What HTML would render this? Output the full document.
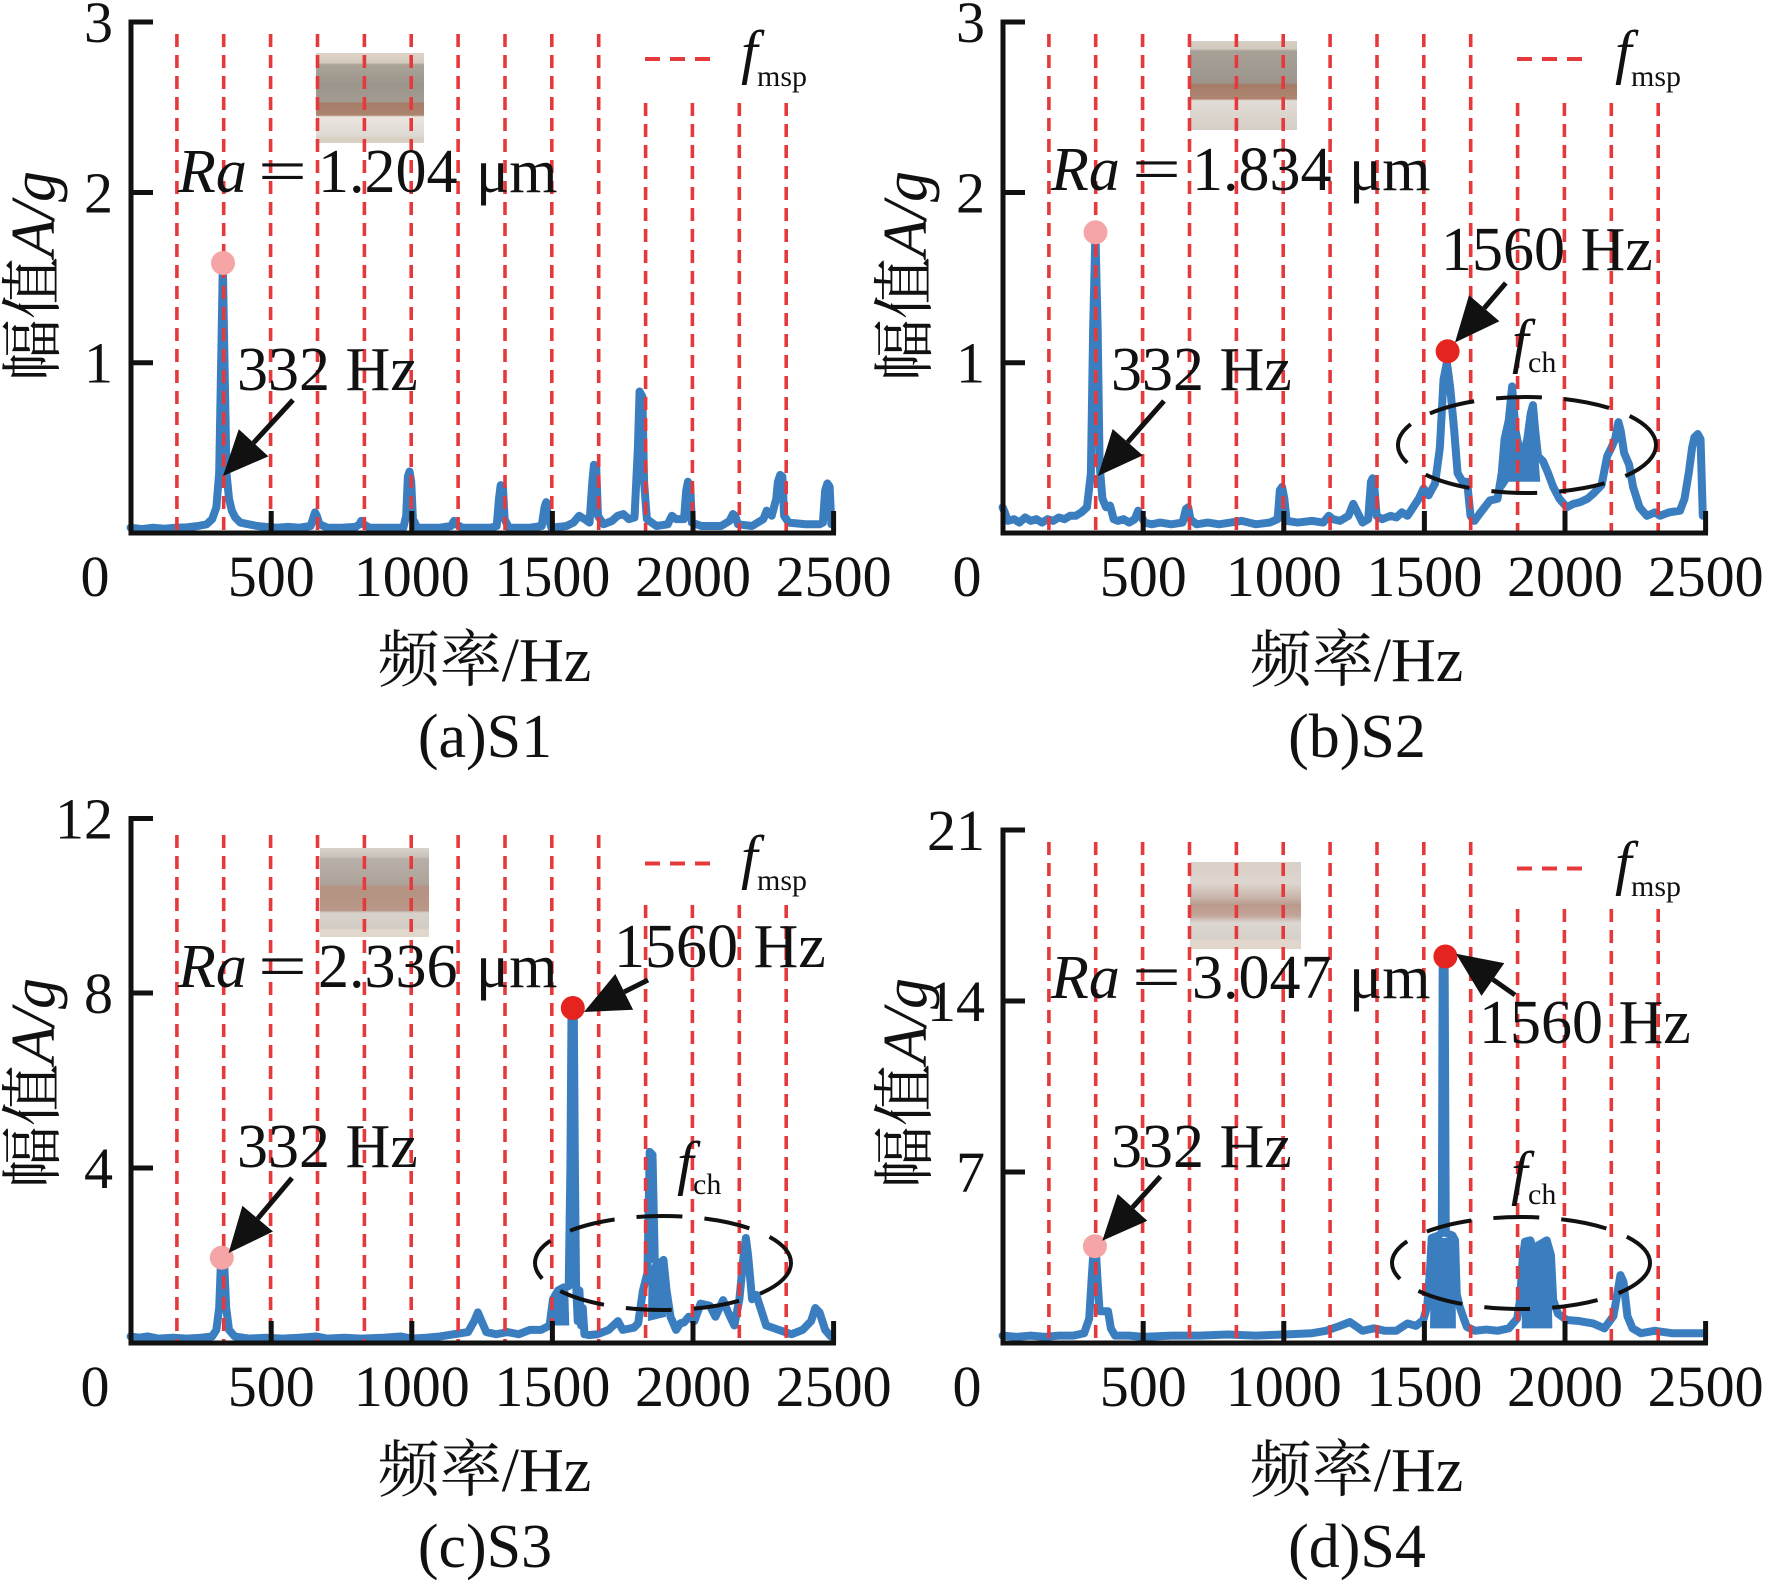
<!DOCTYPE html>
<html><head><meta charset="utf-8"><style>
html,body{margin:0;padding:0;background:#fff}
svg{display:block}
text{font-family:"Liberation Serif","Noto Serif CJK SC",serif;fill:#111}
</style></head><body>
<svg xmlns="http://www.w3.org/2000/svg" width="1770" height="1580" viewBox="0 0 1770 1580">
<defs>
<linearGradient id="pa" x1="0" y1="0" x2="0" y2="1">
<stop offset="0" stop-color="#ddd4c9"/><stop offset="0.11" stop-color="#d4cabd"/><stop offset="0.13" stop-color="#aaa398"/><stop offset="0.35" stop-color="#9b958c"/><stop offset="0.54" stop-color="#a29b92"/><stop offset="0.56" stop-color="#a57c68"/><stop offset="0.69" stop-color="#ab8470"/><stop offset="0.71" stop-color="#ebe6e0"/><stop offset="0.92" stop-color="#dedad3"/><stop offset="0.94" stop-color="#d9d0c4"/><stop offset="1" stop-color="#d9d0c4"/>
</linearGradient>
<linearGradient id="pb" x1="0" y1="0" x2="0" y2="1">
<stop offset="0" stop-color="#d8d0c6"/><stop offset="0.09" stop-color="#d2c9bd"/><stop offset="0.11" stop-color="#a8a198"/><stop offset="0.47" stop-color="#9c958b"/><stop offset="0.49" stop-color="#a67c67"/><stop offset="0.65" stop-color="#ad8571"/><stop offset="0.67" stop-color="#e2ddd6"/><stop offset="1" stop-color="#d4cec6"/>
</linearGradient>
<linearGradient id="pc" x1="0" y1="0" x2="0" y2="1">
<stop offset="0" stop-color="#d9d3cb"/><stop offset="0.1" stop-color="#c9c2ba"/><stop offset="0.12" stop-color="#b8b0a8"/><stop offset="0.4" stop-color="#ada49b"/><stop offset="0.44" stop-color="#b59282"/><stop offset="0.7" stop-color="#b89888"/><stop offset="0.73" stop-color="#d8d2cc"/><stop offset="0.9" stop-color="#d2ccc4"/><stop offset="0.92" stop-color="#e0d8cc"/><stop offset="1" stop-color="#e0d8cc"/>
</linearGradient>
<linearGradient id="pd" x1="0" y1="0" x2="0" y2="1">
<stop offset="0" stop-color="#d9d0c8"/><stop offset="0.25" stop-color="#ddd5ce"/><stop offset="0.4" stop-color="#c9b6ac"/><stop offset="0.5" stop-color="#b99a8c"/><stop offset="0.62" stop-color="#c2a699"/><stop offset="0.7" stop-color="#ddd7d1"/><stop offset="0.88" stop-color="#d6d0ca"/><stop offset="0.9" stop-color="#e0d6cc"/><stop offset="1" stop-color="#e0d6cc"/>
</linearGradient>
</defs>
<rect width="1770" height="1580" fill="#fff"/>

<!-- photos -->
<rect x="316" y="53" width="108" height="90" fill="url(#pa)"/>
<rect x="1190" y="41" width="107" height="89" fill="url(#pb)"/>
<rect x="320" y="848" width="109" height="89" fill="url(#pc)"/>
<rect x="1190" y="862" width="111" height="87" fill="url(#pd)"/>

<!-- blue fills (solid blocks) -->
<g fill="#3b7ec0" stroke="none">
<g transform="translate(1002.6,532.8) scale(0.2812,-170.25)">
<polygon points="1780,0.25 1786,0.55 1800,0.62 1812,0.82 1826,0.6 1836,0.45 1850,0.45 1866,0.5 1880,0.72 1890,0.7 1905,0.45 1912,0.3 1840,0.3 1830,0.3 1800,0.3"/>
</g>
<g transform="translate(130.6,1343) scale(0.2812,-43.75)">
<polygon points="1502,0.4 1506,1.1 1530,1.2 1556,1.3 1560,0.4"/>
<polygon points="1840,0.5 1842,1.6 1862,1.9 1880,1.8 1900,1.85 1904,0.6"/>
</g>
<g transform="translate(1002.6,1343) scale(0.2812,-24.43)">
<polygon points="1520,0.6 1524,4.2 1550,4.3 1600,4.3 1610,4.1 1612,0.6"/>
<polygon points="1846,0.6 1852,3.6 1860,4.05 1877,4.1 1890,3.6 1905,3.9 1935,4.1 1950,3.5 1955,0.6"/>
</g>
</g>

<!-- blue series -->
<g fill="none" stroke="#3b7ec0" stroke-width="8" stroke-linejoin="round" stroke-linecap="round">
<g transform="translate(130.6,532.8) scale(0.2812,-170.25)">
<polyline vector-effect="non-scaling-stroke" points="0,0.03 40,0.022 80,0.03 120,0.024 160,0.03 200,0.032 240,0.04 270,0.05 290,0.08 305,0.15 315,0.35 322,1.0 328,1.58 334,1.0 341,0.35 350,0.2 360,0.13 372,0.09 390,0.06 420,0.05 450,0.04 480,0.035 520,0.03 560,0.035 600,0.03 640,0.04 650,0.09 656,0.12 662,0.1 672,0.05 700,0.03 750,0.03 800,0.035 814,0.05 820,0.07 828,0.05 850,0.03 920,0.03 970,0.03 980,0.1 986,0.33 992,0.36 998,0.3 1004,0.08 1020,0.03 1100,0.03 1140,0.04 1150,0.07 1158,0.05 1180,0.03 1280,0.03 1302,0.04 1310,0.2 1316,0.28 1324,0.27 1330,0.08 1345,0.03 1420,0.03 1462,0.04 1472,0.15 1478,0.18 1484,0.1 1496,0.03 1550,0.04 1575,0.06 1595,0.1 1615,0.08 1632,0.06 1642,0.3 1648,0.4 1656,0.38 1662,0.1 1682,0.05 1712,0.07 1732,0.1 1752,0.11 1772,0.08 1792,0.09 1804,0.5 1810,0.83 1820,0.8 1826,0.3 1836,0.08 1870,0.04 1910,0.05 1925,0.1 1940,0.08 1968,0.08 1976,0.25 1982,0.3 1990,0.28 1996,0.06 2030,0.04 2100,0.04 2130,0.07 2142,0.11 2150,0.1 2160,0.05 2210,0.04 2250,0.08 2262,0.13 2280,0.1 2296,0.2 2302,0.3 2310,0.34 2318,0.33 2324,0.1 2340,0.06 2400,0.05 2450,0.05 2462,0.06 2470,0.25 2478,0.29 2486,0.27 2492,0.05"/>
</g>
<g transform="translate(1002.6,532.8) scale(0.2812,-170.25)">
<polyline vector-effect="non-scaling-stroke" points="0,0.15 8,0.12 18,0.07 40,0.08 60,0.06 80,0.09 100,0.07 120,0.08 140,0.06 160,0.08 180,0.07 200,0.09 220,0.08 240,0.1 260,0.1 280,0.12 300,0.15 314,0.35 322,1.2 330,1.76 338,1.2 345,0.4 355,0.2 368,0.15 382,0.16 395,0.08 410,0.07 430,0.08 450,0.06 470,0.08 482,0.13 492,0.1 505,0.06 530,0.05 560,0.06 600,0.05 640,0.06 652,0.14 660,0.15 668,0.08 690,0.05 730,0.06 770,0.05 810,0.06 850,0.07 900,0.05 950,0.06 978,0.08 986,0.25 994,0.27 1002,0.2 1010,0.07 1050,0.06 1100,0.07 1140,0.06 1160,0.1 1175,0.08 1200,0.07 1230,0.1 1247,0.17 1262,0.12 1280,0.06 1300,0.08 1310,0.3 1316,0.32 1323,0.25 1330,0.1 1350,0.08 1380,0.1 1400,0.09 1420,0.12 1440,0.1 1460,0.15 1480,0.2 1497,0.26 1515,0.22 1538,0.29 1555,0.5 1568,0.9 1580,1.0 1592,0.85 1606,0.6 1618,0.35 1636,0.3 1652,0.3 1664,0.1 1678,0.07 1700,0.12 1733,0.19 1760,0.2 1775,0.35 1785,0.55 1800,0.66 1812,0.86 1824,0.6 1836,0.5 1850,0.45 1866,0.55 1878,0.7 1886,0.75 1894,0.6 1904,0.45 1922,0.42 1940,0.35 1958,0.27 1980,0.2 2006,0.15 2030,0.17 2054,0.18 2080,0.2 2101,0.23 2130,0.28 2150,0.45 2165,0.5 2178,0.55 2190,0.65 2198,0.6 2210,0.47 2228,0.4 2242,0.27 2265,0.15 2291,0.1 2320,0.12 2338,0.1 2370,0.12 2409,0.13 2425,0.2 2440,0.35 2452,0.5 2460,0.56 2472,0.58 2482,0.55 2490,0.1"/>
</g>
<g transform="translate(130.6,1343) scale(0.2812,-43.75)">
<polyline vector-effect="non-scaling-stroke" points="0,0.15 30,0.12 60,0.15 100,0.1 150,0.12 200,0.1 250,0.12 290,0.15 305,0.3 315,0.8 321,1.8 327,1.95 333,1.8 340,0.8 350,0.3 370,0.15 420,0.1 480,0.12 540,0.1 600,0.12 660,0.15 700,0.1 760,0.12 820,0.1 900,0.12 960,0.15 1000,0.1 1050,0.12 1100,0.15 1150,0.2 1200,0.25 1222,0.5 1235,0.7 1248,0.5 1265,0.25 1300,0.2 1340,0.25 1380,0.2 1420,0.3 1460,0.3 1490,0.4 1502,1.0 1520,1.2 1540,1.27 1558,1.3 1564,4 1568,7.6 1576,7.6 1580,4 1584,1.4 1590,0.5 1596,1.2 1602,0.4 1608,0.8 1614,0.2 1630,0.18 1660,0.2 1700,0.3 1733,0.5 1750,0.3 1790,0.35 1805,0.45 1822,1.2 1838,1.6 1846,4.37 1856,4.3 1864,1.9 1880,1.8 1895,1.9 1906,1.2 1920,0.6 1940,0.3 1955,0.45 1968,0.47 1985,0.6 2005,0.5 2027,0.9 2060,0.85 2080,0.6 2107,0.98 2125,0.7 2147,0.4 2165,1.0 2180,2.0 2188,2.4 2196,2.0 2210,1.0 2225,1.1 2240,0.8 2260,0.4 2305,0.3 2350,0.2 2390,0.3 2420,0.5 2435,0.8 2450,0.7 2470,0.3 2490,0.15"/>
</g>
<g transform="translate(1002.6,1343) scale(0.2812,-24.43)">
<polyline vector-effect="non-scaling-stroke" points="0,0.3 50,0.25 100,0.3 150,0.25 200,0.3 250,0.3 290,0.4 308,1.0 316,2.5 324,3.9 331,3.9 338,2.5 345,1.3 360,1.3 375,1.3 385,0.6 400,0.3 450,0.3 500,0.25 600,0.3 700,0.3 800,0.35 900,0.3 1000,0.35 1100,0.4 1150,0.5 1200,0.7 1235,0.86 1255,0.7 1280,0.5 1320,0.6 1360,0.5 1400,0.5 1440,0.8 1470,0.7 1496,0.94 1510,1.5 1520,3.0 1526,4.3 1550,4.4 1562,4.5 1565,15.5 1572,15.5 1576,4.5 1600,4.4 1609,4.2 1615,2.0 1625,1.5 1640,1.0 1651,0.66 1680,0.5 1720,0.55 1760,0.5 1800,0.6 1830,1.0 1840,1.76 1850,3.5 1858,4.15 1877,4.2 1890,3.7 1905,4.0 1935,4.2 1950,3.6 1958,1.76 1975,1.2 2006,0.94 2050,0.9 2100,0.8 2140,0.6 2172,1.1 2186,2.0 2197,2.78 2208,2.5 2222,1.1 2240,0.6 2270,0.4 2320,0.5 2380,0.4 2440,0.4 2490,0.4"/>
</g>
</g>

<!-- red dashed f_msp lines -->
<g fill="none" stroke="#e6393b" stroke-width="3.6" stroke-dasharray="13 8">
<path d="M176.9 34V531M223.7 34V531M270.6 34V531M317.5 34V531M364.4 34V531M411.2 34V531M458.1 34V531M505 34V531M551.8 34V531M598.7 34V531M645.6 103V531M692.4 103V531M739.3 103V531M786.2 103V531"/>
<path d="M1048.9 34V531M1095.7 34V531M1142.6 34V531M1189.5 34V531M1236.4 34V531M1283.2 34V531M1330.1 34V531M1377 34V531M1423.8 34V531M1470.7 34V531M1517.6 103V531M1564.4 103V531M1611.3 103V531M1658.2 103V531"/>
<path d="M176.9 835V1341M223.7 835V1341M270.6 835V1341M317.5 835V1341M364.4 835V1341M411.2 835V1341M458.1 835V1341M505 835V1341M551.8 835V1341M598.7 835V1341M645.6 905V1341M692.4 905V1341M739.3 905V1341M786.2 905V1341"/>
<path d="M1048.9 842V1341M1095.7 842V1341M1142.6 842V1341M1189.5 842V1341M1236.4 842V1341M1283.2 842V1341M1330.1 842V1341M1377 842V1341M1423.8 842V1341M1470.7 842V1341M1517.6 909V1341M1564.4 909V1341M1611.3 909V1341M1658.2 909V1341"/>
</g>
<!-- legend dashes -->
<g fill="none" stroke="#e6393b" stroke-width="4" stroke-dasharray="15 10">
<path d="M645 59H711"/><path d="M1517 59H1583"/><path d="M645 863.5H711"/><path d="M1517 868.5H1583"/>
</g>

<!-- axes -->
<g fill="none" stroke="#111" stroke-width="5">
<path d="M131 19.5V535.5M128.5 533H836M131 22H153M131 192.5H153M131 362.7H153M271.2 533V511M411.8 533V511M552.4 533V511M693 533V511M833.6 533V511"/>
<path d="M1003 19.5V535.5M1000.5 533H1708M1003 22H1025M1003 192.5H1025M1003 362.7H1025M1143.2 533V511M1283.8 533V511M1424.4 533V511M1565 533V511M1705.6 533V511"/>
<path d="M131 816V1345.5M128.5 1343H836M131 818.5H153M131 993H153M131 1168H153M271.2 1343V1321M411.8 1343V1321M552.4 1343V1321M693 1343V1321M833.6 1343V1321"/>
<path d="M1003 827.5V1345.5M1000.5 1343H1708M1003 830H1025M1003 1001H1025M1003 1172H1025M1143.2 1343V1321M1283.8 1343V1321M1424.4 1343V1321M1565 1343V1321M1705.6 1343V1321"/>
</g>

<!-- ellipses -->
<g fill="none" stroke="#111" stroke-width="4" stroke-dasharray="46 22">
<ellipse cx="1527" cy="445" rx="129" ry="48"/>
<ellipse cx="663" cy="1263" rx="128" ry="47"/>
<ellipse cx="1521" cy="1263" rx="129" ry="46"/>
</g>

<!-- markers -->
<circle cx="223" cy="263" r="12" fill="#f5a5a5"/>
<circle cx="1095.5" cy="232.3" r="12" fill="#f5a5a5"/>
<circle cx="1447.6" cy="351.3" r="12" fill="#e52420"/>
<circle cx="221.8" cy="1257.7" r="12" fill="#f5a5a5"/>
<circle cx="572.8" cy="1008" r="12" fill="#e52420"/>
<circle cx="1094.9" cy="1246.2" r="12" fill="#f5a5a5"/>
<circle cx="1445.4" cy="956.5" r="12" fill="#e52420"/>

<!-- arrows -->
<g stroke="#111" stroke-width="5" fill="none">
<path d="M293 400L253.6 442.8"/>
<path d="M1164 401L1127.7 442.2"/>
<path d="M1505.8 283L1484.2 308.3"/>
<path d="M292 1178L257.7 1218.6"/>
<path d="M648 980L624.2 991.9"/>
<path d="M1160.4 1176.5L1132.5 1207.4"/>
<path d="M1515 995L1492.9 979.5"/>
</g>
<g fill="#111">
<polygon points="223,476 268.4,456.4 238.8,429.2"/>
<polygon points="1098,476 1142.7,455.4 1112.7,429"/>
<polygon points="1455,342.5 1499.4,321.3 1469,295.3"/>
<polygon points="228.6,1253 273,1231.5 242.4,1205.7"/>
<polygon points="584,1012 633.1,1009.8 615.3,974"/>
<polygon points="1102.3,1240.8 1147.3,1220.8 1117.7,1194"/>
<polygon points="1456,953.8 1504.3,963.1 1481.5,995.9"/>
</g>

<!-- y-axis labels -->
<g font-size="62" text-anchor="middle">
<text transform="translate(54,276) rotate(-90)">幅值<tspan font-style="italic">A/g</tspan></text>
<text transform="translate(926,276) rotate(-90)">幅值<tspan font-style="italic">A/g</tspan></text>
<text transform="translate(54,1083) rotate(-90)">幅值<tspan font-style="italic">A/g</tspan></text>
<text transform="translate(926,1083) rotate(-90)">幅值<tspan font-style="italic">A/g</tspan></text>
</g>

<!-- y tick labels -->
<g font-size="58" text-anchor="end">
<text x="113" y="42">3</text><text x="113" y="212.5">2</text><text x="113" y="382.7">1</text>
<text x="985" y="42">3</text><text x="985" y="212.5">2</text><text x="985" y="382.7">1</text>
<text x="113" y="838.5">12</text><text x="113" y="1013">8</text><text x="113" y="1188">4</text>
<text x="985" y="850">21</text><text x="985" y="1021">14</text><text x="985" y="1192">7</text>
</g>

<!-- x tick labels -->
<g font-size="58" text-anchor="middle">
<text x="95" y="596">0</text><text x="271.2" y="596">500</text><text x="411.8" y="596">1000</text><text x="552.4" y="596">1500</text><text x="693" y="596">2000</text><text x="833.6" y="596">2500</text>
<text x="967" y="596">0</text><text x="1143.2" y="596">500</text><text x="1283.8" y="596">1000</text><text x="1424.4" y="596">1500</text><text x="1565" y="596">2000</text><text x="1705.6" y="596">2500</text>
<text x="95" y="1406">0</text><text x="271.2" y="1406">500</text><text x="411.8" y="1406">1000</text><text x="552.4" y="1406">1500</text><text x="693" y="1406">2000</text><text x="833.6" y="1406">2500</text>
<text x="967" y="1406">0</text><text x="1143.2" y="1406">500</text><text x="1283.8" y="1406">1000</text><text x="1424.4" y="1406">1500</text><text x="1565" y="1406">2000</text><text x="1705.6" y="1406">2500</text>
</g>

<!-- x labels & captions -->
<g font-size="62" text-anchor="middle">
<text x="484.5" y="681">频率/Hz</text>
<text x="1356.5" y="681">频率/Hz</text>
<text x="484.5" y="1491">频率/Hz</text>
<text x="1356.5" y="1491">频率/Hz</text>
<text x="485" y="757">(a)S1</text>
<text x="1357" y="757">(b)S2</text>
<text x="485" y="1567">(c)S3</text>
<text x="1357" y="1567">(d)S4</text>
</g>

<!-- legends -->
<g>
<text x="741" y="72" font-size="60" font-style="italic">f</text><text x="757" y="86" font-size="30">msp</text>
<text x="1615" y="72" font-size="60" font-style="italic">f</text><text x="1631" y="86" font-size="30">msp</text>
<text x="741" y="877" font-size="60" font-style="italic">f</text><text x="757" y="890" font-size="30">msp</text>
<text x="1615" y="883" font-size="60" font-style="italic">f</text><text x="1631" y="896" font-size="30">msp</text>
</g>

<!-- Ra texts -->
<g font-size="62">
<text x="178" y="192" font-style="italic">Ra</text>
<text transform="translate(258,192) scale(1.4,1)">=</text>
<text x="318" y="192">1.204</text><text x="476" y="192">μm</text>

<text x="1051" y="190" font-style="italic">Ra</text>
<text transform="translate(1132,190) scale(1.4,1)">=</text>
<text x="1192" y="190">1.834</text><text x="1349" y="190">μm</text>

<text x="178" y="987" font-style="italic">Ra</text>
<text transform="translate(258,987) scale(1.4,1)">=</text>
<text x="318" y="987">2.336</text><text x="476" y="987">μm</text>

<text x="1051" y="998" font-style="italic">Ra</text>
<text transform="translate(1132,998) scale(1.4,1)">=</text>
<text x="1192" y="998">3.047</text><text x="1349" y="998">μm</text>
</g>

<!-- annotations -->
<g font-size="62">
<text x="237" y="390">332 Hz</text>
<text x="1111" y="390">332 Hz</text>
<text x="1441" y="270">1560 Hz</text>
<text x="237" y="1167">332 Hz</text>
<text x="614" y="967">1560 Hz</text>
<text x="1111" y="1167">332 Hz</text>
<text x="1479" y="1043">1560 Hz</text>
</g>

<!-- f_ch -->
<g>
<text x="1512" y="361" font-size="60" font-style="italic">f</text><text x="1528" y="372" font-size="30">ch</text>
<text x="677" y="1183" font-size="60" font-style="italic">f</text><text x="693" y="1194" font-size="30">ch</text>
<text x="1511" y="1193" font-size="60" font-style="italic">f</text><text x="1528" y="1204" font-size="30">ch</text>
</g>
</svg>
</body></html>
